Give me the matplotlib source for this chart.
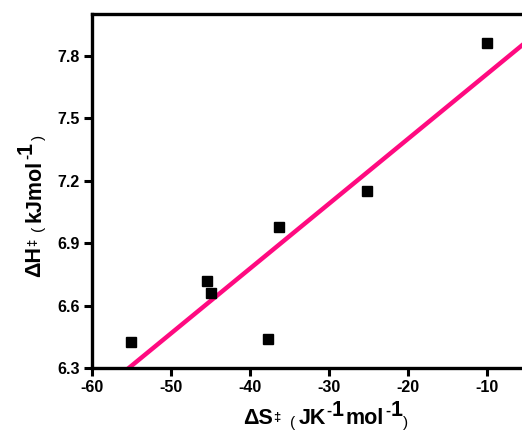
import numpy as np
import matplotlib
matplotlib.use('Agg')
import matplotlib.pyplot as plt
from matplotlib.transforms import IdentityTransform

# ============ data ============
dS = [-55.05, -45.45, -44.95, -37.7, -36.35, -25.2, -10.0]   # J K^-1 mol^-1
dH = [6.427, 6.718, 6.659, 6.437, 6.978, 7.151, 7.861]       # kJ mol^-1

x_ticks = [-60, -50, -40, -30, -20, -10]
y_ticks = [6.3, 6.6, 6.9, 7.2, 7.5, 7.8]

FONT = 'Liberation Sans'
PINK = '#FF0A80'


def draw_label(fig, x0, y0, pieces, rotation=0):
    """把不同字号/上下偏移的文本片段拼成一个轴标签 (像素坐标)"""
    renderer = fig.canvas.get_renderer()
    pos = 0
    for s, size, weight, dy, gap in pieces:
        pos += gap
        if rotation == 0:
            x, y = x0 + pos, y0 + dy
        else:
            x, y = x0 - dy, y0 + pos
        t = fig.text(x, y, s, transform=IdentityTransform(), fontsize=size,
                     fontweight=weight, family=FONT, rotation=rotation,
                     rotation_mode='anchor', ha='left', va='baseline')
        bb = t.get_window_extent(renderer)
        pos += bb.width if rotation == 0 else bb.height


fig = plt.figure(figsize=(5.22, 4.32), dpi=100)
ax = fig.add_axes([92 / 522, 64 / 432, 434 / 522, 354 / 432])

# 数据点
ax.plot(dS, dH, 's', color='black', markersize=6.5, zorder=3)

# 线性拟合
k, b = np.polyfit(dS, dH, 1)
xf = np.array([-60, -5])
ax.plot(xf, k * xf + b, color=PINK, linewidth=3.2, zorder=2)

ax.set_xlim(-60, -60 + 434 / 7.9)
ax.set_ylim(6.3, 8.0)
ax.set_xticks(x_ticks)
ax.set_yticks(y_ticks)
ax.set_xticklabels([f"{v}" for v in x_ticks])
ax.set_yticklabels([f"{v:.1f}" for v in y_ticks])

for sp in ax.spines.values():
    sp.set_linewidth(2.4)
ax.tick_params(direction='out', length=6, width=2.2, pad=3)
for lab in ax.get_xticklabels() + ax.get_yticklabels():
    lab.set_fontfamily(FONT)
    lab.set_fontweight('bold')
    lab.set_fontsize(11.5)

M, S = 15.5, 11
# (文本, 字号, 粗细, 上移像素, 前置间距像素)
xlabel = [("ΔS", M, 'bold', 0, 0), ("‡", 9.5, 'bold', 3.5, 0),
          ("(", S, 'normal', -2.5, 10), ("JK", M, 'bold', 0, 3),
          ("-", S, 'bold', 9, 1), ("1", M, 'bold', 8, 0),
          ("mol", M, 'bold', 0, 2), ("-", S, 'bold', 9, 1),
          ("1", M, 'bold', 8, 0), (")", S, 'normal', -2.5, 1)]
ylabel = [("ΔH", M, 'bold', 0, 0), ("‡", 9.5, 'bold', 3.5, 0),
          ("(", S, 'normal', -2.5, 8), ("kJmol", M, 'bold', 0, 3),
          ("-", S, 'bold', 9, 1), ("1", M, 'bold', 8, 0),
          (")", S, 'normal', -2.5, 2)]
draw_label(fig, 243, 8, xlabel)
draw_label(fig, 40, 155, ylabel, rotation=90)

plt.savefig('out.png', dpi=100, facecolor='white')
plt.close()
